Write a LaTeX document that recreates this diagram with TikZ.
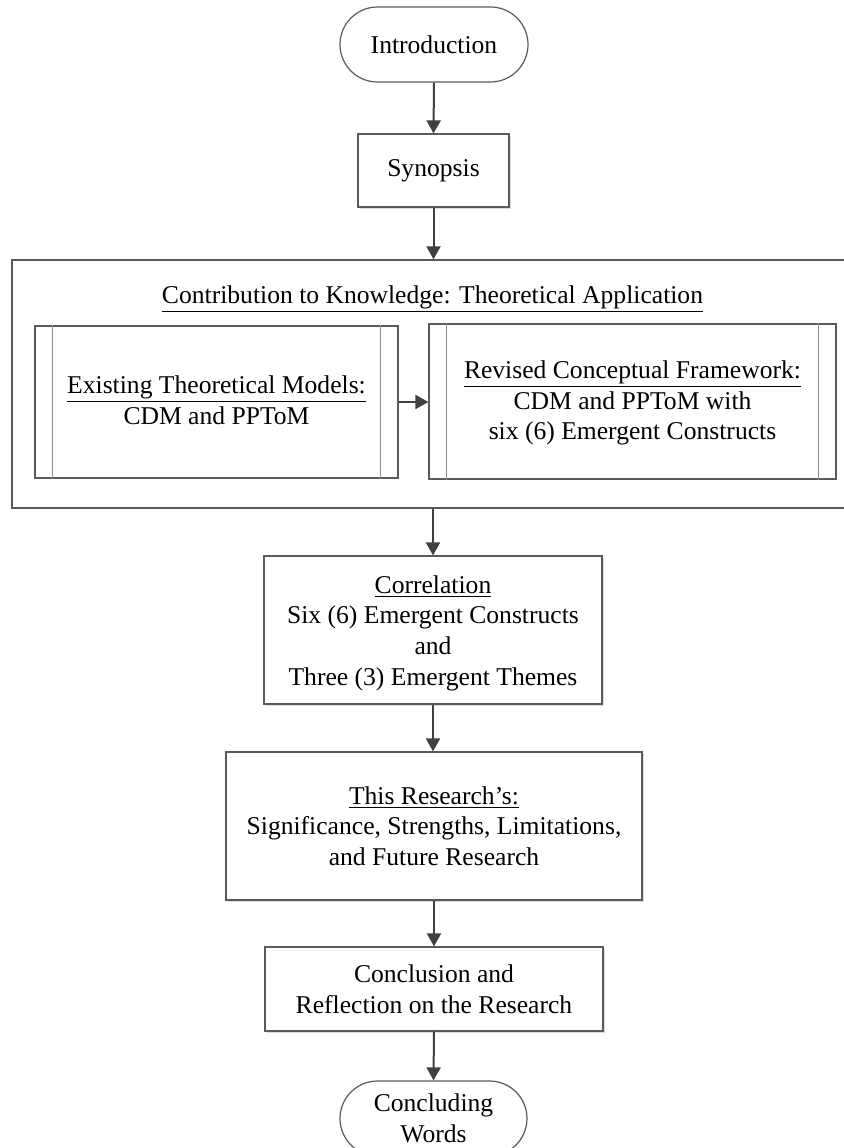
\documentclass[tikz,border=0pt]{standalone}
\usepackage{fontspec}
\setmainfont{Liberation Serif}
\usetikzlibrary{arrows.meta,shadows}
\definecolor{boxgray}{HTML}{5A5A5A}
\definecolor{innergray}{HTML}{8C8C8C}
\definecolor{arrowgray}{HTML}{404040}
\begin{document}
\begin{tikzpicture}[x=0.5pt,y=-0.5pt,
  every node/.style={font=\fontsize{12.8}{15.3}\selectfont, align=center, inner sep=0pt},
  box/.style={draw=boxgray, line width=0.6pt, fill=white,
    drop shadow={shadow xshift=1pt, shadow yshift=-1pt, fill=black!14, opacity=1}},
  term/.style={draw=boxgray, line width=0.6pt, fill=white, rounded corners=18.75pt},
  subbox/.style={draw=boxgray, line width=0.6pt, fill=white},
  frame/.style={draw=boxgray, line width=0.7pt},
  innerline/.style={draw=innergray, line width=0.6pt},
  flow/.style={draw=arrowgray, line width=1pt, -{Triangle[length=6.5pt,width=7pt]}}
]
\useasboundingbox (0,0) rectangle (844,1148);
\fill[white] (0,0) rectangle (844,1148);
\clip (0,0) rectangle (844,1148);

% nodes
\node[term, minimum width=94pt, minimum height=37.5pt] (intro) at (434,44.5) {Introduction};
\node[box, minimum width=75.5pt, minimum height=36.5pt] (syn) at (433.5,170.5) {Synopsis};

\node[frame, minimum width=429pt, minimum height=124pt] (big) at (441,384) {};
\node (title) at (432.5,299) {\underline{Contribution to Knowledge: Theoretical Application}};

\node[subbox, minimum width=181.5pt, minimum height=76pt] (left) at (216.5,402) {};
\node (lefttext) at (216.5,400) {\underline{Existing Theoretical Models:}\\CDM and PPToM};
\draw[innerline] ([xshift=9pt]left.north west) -- ([xshift=9pt]left.south west);
\draw[innerline] ([xshift=-9pt]left.north east) -- ([xshift=-9pt]left.south east);

\node[subbox, minimum width=203.5pt, minimum height=77.5pt] (right) at (632.5,401.5) {};
\node (righttext) at (632.5,403) {\underline{Revised Conceptual Framework:}\\CDM and PPToM with\\six (6) Emergent Constructs};
\draw[innerline] ([xshift=9pt]right.north west) -- ([xshift=9pt]right.south west);
\draw[innerline] ([xshift=-9pt]right.north east) -- ([xshift=-9pt]right.south east);

\node[box, minimum width=169pt, minimum height=74pt] (corr) at (433,630) {};
\node (corrtext) at (433,633) {\underline{Correlation}\\Six (6) Emergent Constructs\\and\\Three (3) Emergent Themes};

\node[box, minimum width=208pt, minimum height=74pt] (research) at (434,826) {\underline{This Research’s:}\\Significance, Strengths, Limitations,\\and Future Research};

\node[box, minimum width=169pt, minimum height=42pt] (concl) at (434,989) {Conclusion and\\Reflection on the Research};

\node[term, minimum width=93.5pt, minimum height=37.5pt] (words) at (433.5,1118.5) {Concluding\\Words};

% connectors
\draw[flow] (intro.south) -- (syn.north);
\draw[flow] (syn.south) -- (syn.south |- big.north);
\draw[flow] (left.east) -- (right.west |- left.east);
\draw[flow] (corr.north |- big.south) -- (corr.north);
\draw[flow] (corr.south) -- (research.north -| corr.south);
\draw[flow] (research.south) -- (concl.north);
\draw[flow] (concl.south) -- (words.north);
\end{tikzpicture}
\end{document}
